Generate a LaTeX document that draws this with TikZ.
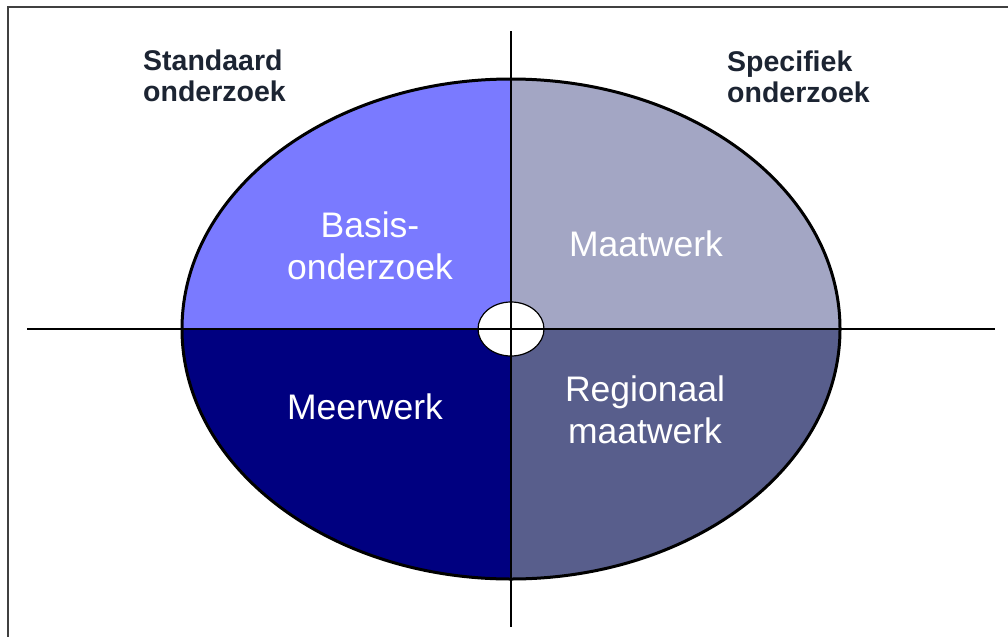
\documentclass[tikz,border=0pt]{standalone}
\usepackage{fontspec}
\setmainfont{Liberation Sans}
\usetikzlibrary{positioning}
\definecolor{basisblue}{RGB}{122,122,255}
\definecolor{maatgrey}{RGB}{163,166,196}
\definecolor{meernavy}{RGB}{0,0,128}
\definecolor{regioslate}{RGB}{88,94,140}
\definecolor{labeldark}{RGB}{28,36,50}
\tikzset{
    %Define style for the labels inside the quarters
    quarter/.style={
           text=white,
           align=center,
           inner sep=0pt,
           font=\fontsize{35.5}{42}\selectfont},
    %Define style for the labels above the ellipse
    heading/.style={
           text=labeldark,
           align=left,
           inner sep=0pt,
           anchor=west,
           font=\bfseries\fontsize{28.5}{31}\selectfont},
    % Define line style for the axes
    axis/.style={
           draw=black,
           line width=2pt}
}
\begin{document}
\begin{tikzpicture}[x=1pt, y=-1pt]
    \useasboundingbox (0,0) rectangle (1008,637);
    % frame
    \draw[line width=1.2pt, black!75] (1008,7) -- (8,7) -- (8,637);

    \coordinate (c) at (511,329);
    \coordinate (left end) at (27,329);
    \coordinate (right end) at (995,329);
    \coordinate (top end) at (511,31);
    \coordinate (bottom end) at (511,627);

    % the four quarters
    \fill[basisblue] (c) -- ++(-329,0) arc[start angle=180, end angle=270, x radius=329, y radius=250] -- cycle;
    \fill[maatgrey] (c) -- ++(0,-250) arc[start angle=270, end angle=360, x radius=329, y radius=250] -- cycle;
    \fill[regioslate] (c) -- ++(329,0) arc[start angle=0, end angle=90, x radius=329, y radius=250] -- cycle;
    \fill[meernavy] (c) -- ++(0,250) arc[start angle=90, end angle=180, x radius=329, y radius=250] -- cycle;
    \draw[line width=3pt] (c) ellipse[x radius=329, y radius=250];
    \draw[line width=1.2pt, fill=white] (c) ellipse[x radius=33, y radius=27];

    \draw[axis] (left end) -- (right end);
    \draw[axis] (top end) -- (bottom end);

    \node[quarter] (basis) at (370,246) {Basis-\\onderzoek};
    \node[quarter] (maatwerk) at (646,244) {Maatwerk};
    \node[quarter] (meerwerk) at (365,407) {Meerwerk};
    \node[quarter] (regionaal) at (645,410) {Regionaal\\maatwerk};

    \node[heading] (standaard) at (143,76) {Standaard\\onderzoek};
    \node[heading] (specifiek) at (727,77) {Specifiek\\onderzoek};
\end{tikzpicture}
\end{document}
